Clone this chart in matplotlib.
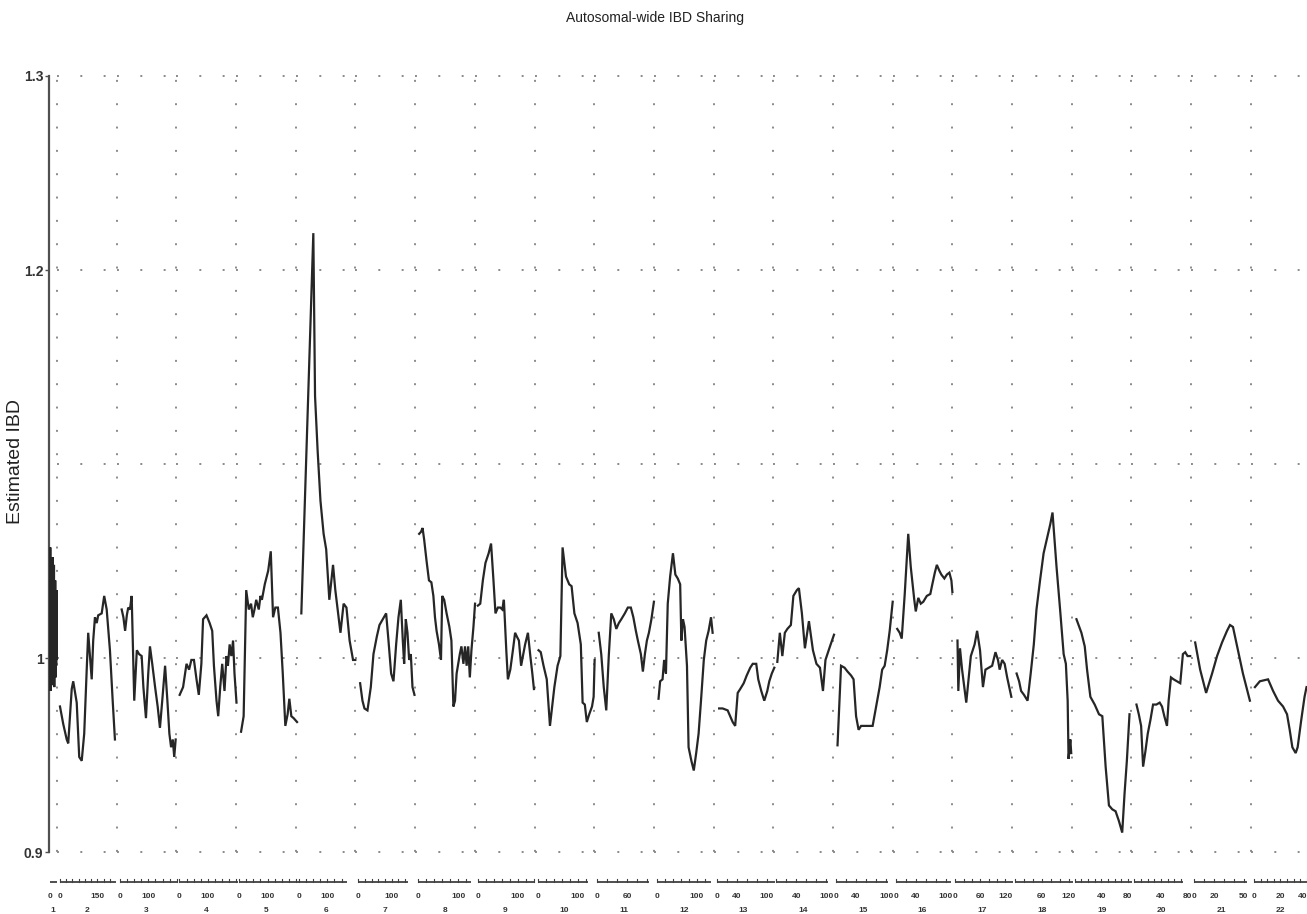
import matplotlib
matplotlib.use("Agg")
import matplotlib.pyplot as plt
import numpy as np

plt.rcParams['font.family'] = ['Liberation Sans', 'DejaVu Sans']

# chromosome panels: axis span (cM across one panel), axis line end, small tick step
chroms = [str(i) for i in range(1, 23)]
spans = [280, 239, 209, 209, 209, 209, 179, 149, 149, 149, 119, 149,
         119, 119, 119, 119, 143, 134, 90, 90, 60, 45]
seg_ends = [280, 224, 200, 206, 210, 168, 150, 132, 140, 127, 104, 135,
            116, 104, 104, 110, 139, 130, 87, 73, 53, 45]
tick_steps = [0, 25, 25, 25, 25, 25, 20, 20, 20, 20, 20, 20,
              20, 20, 20, 20, 20, 20, 10, 10, 10, 5]
tick_labels = [[0], [0, 150], [0, 100], [0, 100], [0, 100], [0, 100], [0, 100],
               [0, 100], [0, 100], [0, 100], [0, 60], [0, 100], [0, 40, 100],
               [40, 100], [0, 40, 100], [0, 40, 100], [0, 60, 120], [60, 120],
               [40, 80], [40, 80], [0, 20, 50], [0, 20, 40]]

pos1 = [0, 10, 22, 35, 47, 58, 70, 83, 95, 108, 121, 133, 146, 158, 170, 183,
        196, 208, 221, 233, 246, 258, 268, 278]
ibd1 = [0.992, 1.057, 0.983, 1.050, 0.990, 1.045, 0.986, 1.038, 0.995, 1.052,
        0.988, 1.030, 0.999, 1.048, 0.985, 1.025, 1.002, 1.040, 0.990, 1.015,
        0.996, 1.035, 0.999, 1.000]
pos2 = [0, 13, 27, 33, 47, 53, 67, 77, 87, 97, 107, 113, 127, 133, 140, 147,
        153, 167, 177, 187, 200, 211, 220]
ibd2 = [0.975, 0.966, 0.958, 0.956, 0.984, 0.988, 0.977, 0.949, 0.947, 0.961,
        0.994, 1.013, 0.989, 1.009, 1.021, 1.018, 1.022, 1.023, 1.032, 1.025,
        1.004, 0.978, 0.958]
pos3 = [7, 13, 19, 25, 30, 36, 42, 51, 60, 68, 77, 83, 92, 100, 106, 114, 124,
        133, 141, 149, 159, 167, 174, 180, 186, 191, 196]
ibd3 = [1.025, 1.021, 1.014, 1.022, 1.026, 1.025, 1.032, 0.978, 1.004, 1.002,
        1.001, 0.985, 0.969, 0.992, 1.006, 0.997, 0.985, 0.975, 0.964, 0.978,
        0.996, 0.978, 0.961, 0.954, 0.958, 0.949, 0.958]
pos4 = [1, 13, 25, 34, 42, 51, 60, 68, 77, 83, 95, 106, 115, 121, 130, 136,
        143, 150, 158, 165, 170, 176, 182, 188, 193, 200]
ibd4 = [0.981, 0.985, 0.997, 0.994, 0.999, 0.999, 0.989, 0.981, 0.997, 1.020,
        1.022, 1.018, 1.014, 0.996, 0.978, 0.970, 0.985, 0.997, 0.983, 1.001,
        0.996, 1.007, 1.001, 1.009, 0.992, 0.977]
pos5 = [7, 16, 25, 34, 42, 48, 54, 60, 69, 75, 80, 90, 102, 111, 119, 127, 136,
        145, 153, 162, 170, 176, 183, 191, 203]
ibd5 = [0.962, 0.970, 1.035, 1.025, 1.028, 1.021, 1.025, 1.030, 1.025, 1.032,
        1.030, 1.038, 1.045, 1.055, 1.021, 1.026, 1.026, 1.013, 0.992, 0.965,
        0.971, 0.979, 0.970, 0.969, 0.967]
pos6 = [9, 51, 57, 66, 76, 87, 96, 107, 120, 128, 146, 157, 167, 178, 190, 198]
ibd6 = [1.023, 1.219, 1.135, 1.107, 1.081, 1.064, 1.056, 1.030, 1.048, 1.035,
        1.013, 1.028, 1.026, 1.009, 0.999, 0.999]
pos7 = [5, 12, 18, 27, 37, 45, 55, 63, 73, 83, 90, 98, 105, 113, 120, 127, 133,
        137, 142, 147, 152, 157, 162, 168]
ibd7 = [0.987, 0.978, 0.974, 0.973, 0.985, 1.002, 1.011, 1.017, 1.020, 1.023,
        1.009, 0.992, 0.988, 1.007, 1.021, 1.030, 1.009, 0.997, 1.020, 1.013,
        0.999, 1.002, 0.985, 0.981]
pos8 = [2.5, 7, 11, 15, 21, 27, 33, 38, 42, 46, 52, 57, 60, 65, 71, 78, 83, 88,
        92, 96, 104, 108, 113, 117, 121, 125, 129, 133, 138, 142]
ibd8 = [1.064, 1.065, 1.067, 1.061, 1.050, 1.040, 1.039, 1.032, 1.021, 1.014,
        1.007, 0.999, 1.032, 1.030, 1.023, 1.016, 1.009, 0.975, 0.978, 0.992,
        1.002, 1.006, 0.997, 1.006, 0.996, 1.006, 0.990, 1.004, 1.016, 1.028]
pos9 = [0, 6, 12.5, 19, 27, 33, 39, 44, 50, 56, 61, 65, 71, 75, 81, 87.5, 93,
        97.5, 102.5, 108, 112.5, 118, 125, 131, 136, 140]
ibd9 = [1.027, 1.028, 1.040, 1.049, 1.054, 1.059, 1.040, 1.023, 1.026, 1.026,
        1.025, 1.030, 1.004, 0.989, 0.994, 1.004, 1.013, 1.011, 1.009, 0.996,
        1.001, 1.007, 1.013, 1.001, 0.992, 0.984]
pos10 = [2.5, 8, 15, 23, 31, 42, 50, 57, 62.5, 71, 79, 85, 92, 100, 108, 112.5,
         118, 123, 129, 136, 140, 142.5]
ibd10 = [1.004, 1.003, 0.996, 0.989, 0.965, 0.985, 0.996, 1.001, 1.057, 1.042,
         1.038, 1.037, 1.023, 1.018, 1.007, 0.977, 0.976, 0.967, 0.971, 0.975,
         0.980, 0.999]
pos11 = [3, 8, 13, 18, 23, 28, 33, 38, 43, 48, 55, 61, 67, 72, 77, 81, 87, 91,
         95, 99, 103, 108, 113]
ibd11 = [1.013, 1.002, 0.985, 0.973, 1.001, 1.023, 1.020, 1.015, 1.018, 1.020,
         1.023, 1.026, 1.026, 1.021, 1.014, 1.009, 1.002, 0.993, 1.002, 1.009,
         1.013, 1.020, 1.029]
pos12 = [4, 8, 14, 18, 22.5, 27, 33, 40, 46, 52, 58, 61, 65, 69, 75, 79, 86, 92,
         98, 104, 110, 117, 123, 129, 135, 139]
ibd12 = [0.979, 0.988, 0.989, 0.999, 0.992, 1.028, 1.042, 1.054, 1.043, 1.041,
         1.038, 1.009, 1.020, 1.016, 0.996, 0.954, 0.947, 0.942, 0.951, 0.961,
         0.978, 0.999, 1.009, 1.014, 1.021, 1.013]
pos13 = [5, 12, 22, 27, 32, 37, 42, 47, 54, 60, 67, 72, 79, 83, 89, 95, 101,
         105, 110, 115]
ibd13 = [0.974, 0.974, 0.973, 0.970, 0.967, 0.965, 0.982, 0.984, 0.987, 0.991,
         0.995, 0.997, 0.997, 0.989, 0.983, 0.978, 0.983, 0.988, 0.992, 0.995]
pos14 = [2, 7, 12, 17, 22, 29, 34, 41, 45, 51, 57, 65, 73, 80, 87, 93, 98, 107,
         115]
ibd14 = [0.998, 1.013, 1.001, 1.013, 1.015, 1.017, 1.032, 1.035, 1.036, 1.023,
         1.005, 1.019, 1.004, 0.997, 0.995, 0.983, 0.999, 1.006, 1.012]
pos15 = [3, 10, 17, 23, 30, 35, 40, 45, 50, 57, 63, 73, 80, 87, 92, 97, 102,
         107, 113]
ibd15 = [0.955, 0.996, 0.995, 0.993, 0.991, 0.989, 0.970, 0.963, 0.965, 0.965,
         0.965, 0.965, 0.975, 0.985, 0.994, 0.996, 1.004, 1.014, 1.029]
pos16 = [3, 8, 12, 18, 25, 30, 37, 40, 45, 50, 55, 62, 69, 73, 78, 82, 87, 91,
         97, 102, 107, 111, 113]
ibd16 = [1.015, 1.013, 1.010, 1.033, 1.064, 1.047, 1.030, 1.024, 1.031, 1.028,
         1.029, 1.032, 1.033, 1.038, 1.044, 1.048, 1.045, 1.043, 1.041, 1.043,
         1.044, 1.040, 1.034]
pos17 = [5, 7, 11, 16, 26, 37, 46, 52, 59, 66, 72, 80, 88, 96, 102, 106, 112,
         118, 124, 134]
ibd17 = [1.009, 0.983, 1.005, 0.994, 0.977, 1.001, 1.007, 1.014, 1.004, 0.985,
         0.994, 0.995, 0.996, 1.003, 0.999, 0.994, 0.999, 0.997, 0.990, 0.980]
pos18 = [3.4, 9, 13.5, 20, 28, 35, 42, 48, 56, 64, 71, 79, 84, 93, 101, 109,
         114, 118, 120, 124, 126]
ibd18 = [0.992, 0.988, 0.983, 0.981, 0.978, 0.992, 1.007, 1.025, 1.040, 1.054,
         1.061, 1.069, 1.075, 1.047, 1.025, 1.002, 0.997, 0.978, 0.948, 0.958,
         0.951]
pos19 = [2.5, 10, 15, 18.5, 23.5, 30, 36.5, 41.5, 46.5, 51.5, 56.5, 61.5, 66.5,
         71.5, 75, 78.5, 82.5]
ibd19 = [1.020, 1.013, 1.006, 0.994, 0.980, 0.976, 0.971, 0.970, 0.944, 0.924,
         0.922, 0.921, 0.916, 0.910, 0.930, 0.947, 0.971]
pos20 = [3, 6.5, 10, 13, 16.5, 20, 24, 28, 33, 38, 41.5, 45, 49, 51.5, 55, 59,
         64, 69, 73, 76.5, 80, 84]
ibd20 = [0.976, 0.971, 0.965, 0.944, 0.952, 0.961, 0.968, 0.976, 0.976, 0.977,
         0.975, 0.970, 0.965, 0.978, 0.990, 0.989, 0.988, 0.987, 1.002, 1.003,
         1.001, 1.001]
pos21 = [1, 6, 12, 18, 23, 28, 33, 36, 39, 44, 49, 54, 56]
ibd21 = [1.008, 0.994, 0.982, 0.992, 1.001, 1.008, 1.014, 1.017, 1.016, 1.004,
         0.992, 0.982, 0.978]
pos22 = [0.8, 4.5, 10.7, 14.5, 18.2, 22, 25, 27, 29, 31.5, 33, 35.7, 38.2, 39.7]
ibd22 = [0.985, 0.988, 0.989, 0.983, 0.978, 0.975, 0.971, 0.963, 0.954, 0.951,
         0.954, 0.968, 0.980, 0.985]

positions = [pos1, pos2, pos3, pos4, pos5, pos6, pos7, pos8, pos9, pos10, pos11,
             pos12, pos13, pos14, pos15, pos16, pos17, pos18, pos19, pos20,
             pos21, pos22]
ibds = [ibd1, ibd2, ibd3, ibd4, ibd5, ibd6, ibd7, ibd8, ibd9, ibd10, ibd11,
        ibd12, ibd13, ibd14, ibd15, ibd16, ibd17, ibd18, ibd19, ibd20, ibd21,
        ibd22]

grid_y = [0.9, 1.0, 1.1, 1.2, 1.3]
ytick_vals = [0.9, 1.0, 1.2, 1.3]
ytick_text = ["0.9", "1", "1.2", "1.3"]

# chromosome 1 is squeezed into a narrow strip left of the first panel
CHR1_LEFT = -0.117
PAD = 0.05
XMAX = 20.94


def to_x(k, p):
    p = np.asarray(p, dtype=float)
    if k == 0:
        return CHR1_LEFT - CHR1_LEFT * p / spans[0]
    return (k - 1) + PAD + p / spans[k]


fig = plt.figure(figsize=(13.07, 9.14), dpi=100)
ax = fig.add_axes([49 / 1307, 62 / 914, 1258 / 1307, 776 / 914])
ax.set_xlim(-0.134, XMAX)
ax.set_ylim(0.9, 1.3)

dot = dict(color="#8a8a8a", lw=1.4, ls=(0, (1, 11)), clip_on=False, zorder=1)
for k in range(1, 22):
    for yv in grid_y:
        ax.plot([k - 1, min(k, XMAX)], [yv, yv], **dot)
for k in range(0, 21):
    ax.plot([k, k], [1.3, 0.9], **dict(dot, ls=(10, (1, 11))))

for k in range(22):
    ax.plot(to_x(k, positions[k]), ibds[k], color="#262626", lw=1.6,
            solid_joinstyle="miter", zorder=3)

for s in ["top", "right", "bottom"]:
    ax.spines[s].set_visible(False)
ax.spines["left"].set_color("#505050")
ax.spines["left"].set_linewidth(1.6)
ax.set_xticks([])
ax.set_yticks(ytick_vals)
ax.set_yticklabels(ytick_text, fontsize=10, fontweight="bold", color="#333333")
ax.tick_params(axis="y", length=3, width=1, color="#505050", pad=1)

# segmented chromosome axis under the plot
trans = ax.get_xaxis_transform()
seg_y = -30 / 776
lab_y = -45 / 776
chr_y = -58 / 776
for k in range(22):
    x0, x1 = to_x(k, 0), min(to_x(k, seg_ends[k]), XMAX)
    ax.plot([x0, x1], [seg_y, seg_y], color="#404040", lw=1.3, transform=trans,
            clip_on=False, solid_capstyle="butt")
    if tick_steps[k]:
        tp = np.arange(0, seg_ends[k] + 0.1, tick_steps[k])
        for t in to_x(k, tp):
            if t <= XMAX:
                ax.plot([t, t], [seg_y, seg_y + 3 / 776], color="#404040",
                        lw=0.8, transform=trans, clip_on=False)
    for v in tick_labels[k]:
        xv = float(to_x(k, v))
        # the last label sits on the right edge: keep it inside the figure
        ha = "right" if xv > XMAX - 0.1 else "center"
        ax.text(min(xv, XMAX), lab_y, str(v), transform=trans, ha=ha,
                va="center", fontsize=6, fontweight="bold", color="#333333")
    centre = (CHR1_LEFT - 0.017) / 2 if k == 0 else k - 0.5
    ax.text(centre, chr_y, chroms[k], transform=trans, ha="center", va="center",
            fontsize=6, fontweight="bold", color="#333333")

fig.text(655 / 1307, 1 - 18 / 914, "Autosomal-wide IBD Sharing",
         ha="center", va="center", fontsize=10, color="#222222")
fig.text(16 / 1307, 1 - 462 / 914, "Estimated IBD", rotation=90,
         ha="center", va="center", fontsize=14, color="#222222")

fig.savefig("out.png", dpi=100)
